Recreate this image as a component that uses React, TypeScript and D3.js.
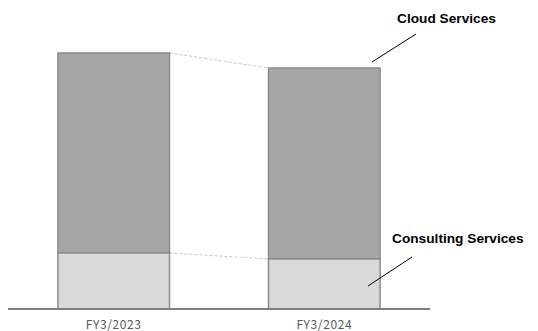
import React from 'react';
import * as d3 from 'd3';

const years = ['FY3/2023', 'FY3/2024'];
const consulting = [56, 50];
const cloud = [200, 191];

const W = 538;
const H = 331;

const App = () => {
  const x = d3.scaleBand().domain(years).range([8, 430]).paddingInner(0.47).paddingOuter(0.237);
  const y = d3.scaleLinear().domain([0, 256]).range([309, 53]);
  const bw = x.bandwidth();

  const stacked = years.map((yr, i) => ({
    yr,
    cons: [0, consulting[i]],
    cloud: [consulting[i], consulting[i] + cloud[i]],
  }));

  const a = stacked[0];
  const b = stacked[1];
  const ax = (x(a.yr) as number) + bw;
  const bx = x(b.yr) as number;

  return (
    <svg width={W} height={H} style={{ position: 'absolute', left: 0, top: 0 }}>
      {/* connectors between bars */}
      <line x1={ax} y1={y(a.cloud[1])} x2={bx} y2={y(b.cloud[1])} stroke="#c8c8c8" strokeWidth={1} strokeDasharray="3,2" />
      <line x1={ax} y1={y(a.cons[1])} x2={bx} y2={y(b.cons[1])} stroke="#c8c8c8" strokeWidth={1} strokeDasharray="3,2" />

      {stacked.map((d) => (
        <g key={d.yr}>
          <rect
            x={x(d.yr)}
            y={y(d.cloud[1])}
            width={bw}
            height={y(d.cloud[0]) - y(d.cloud[1])}
            fill="#a6a6a6"
            stroke="#8c8c8c"
            strokeWidth={1.5}
          />
          <rect
            x={x(d.yr)}
            y={y(d.cons[1])}
            width={bw}
            height={y(d.cons[0]) - y(d.cons[1])}
            fill="#d9d9d9"
            stroke="#8c8c8c"
            strokeWidth={1.5}
          />
          <text
            x={(x(d.yr) as number) + bw / 2}
            y={329}
            textAnchor="middle"
            fontFamily="'Noto Sans CJK JP', sans-serif"
            fontSize={12}
            letterSpacing={0.6}
            fill="#595959"
          >
            {d.yr}
          </text>
        </g>
      ))}

      {/* baseline */}
      <line x1={8} x2={430} y1={y(0)} y2={y(0)} stroke="#7f7f7f" strokeWidth={2} />

      {/* series labels */}
      <line x1={372} y1={62} x2={416} y2={34} stroke="#000" strokeWidth={1} />
      <text x={397} y={23} fontFamily="'Liberation Sans', Arial, sans-serif" fontWeight="bold" fontSize={13.7} fill="#000">
        Cloud Services
      </text>
      <line x1={368} y1={286} x2={412} y2={257} stroke="#000" strokeWidth={1} />
      <text x={392} y={243} fontFamily="'Liberation Sans', Arial, sans-serif" fontWeight="bold" fontSize={13.7} fill="#000">
        Consulting Services
      </text>
    </svg>
  );
};

export default App;
